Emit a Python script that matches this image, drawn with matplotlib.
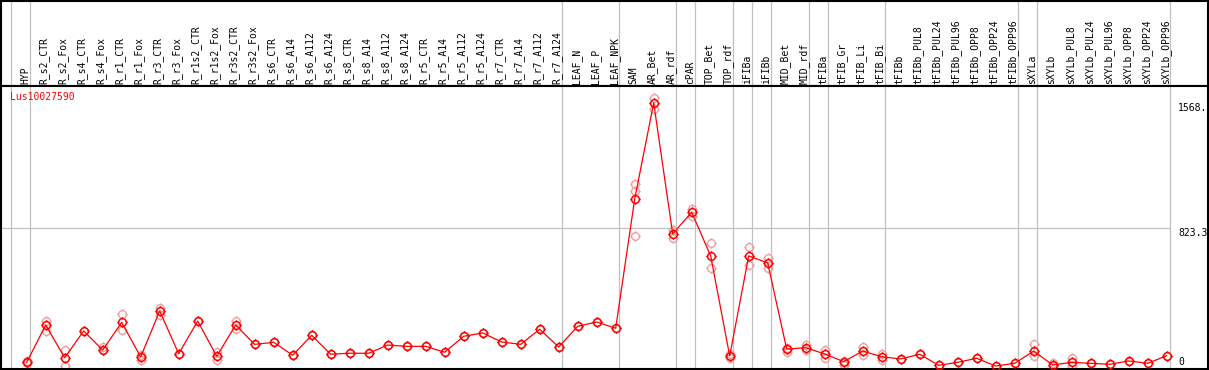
import matplotlib
matplotlib.use("Agg")
import matplotlib.pyplot as plt
from matplotlib.path import Path
import matplotlib.transforms as mtransforms

# ---------------- data ----------------
gene = "Lus10027590"

categories = [
    "HYP", "R_s2_CTR", "R_s2_Fox", "R_s4_CTR", "R_s4_Fox", "R_r1_CTR", "R_r1_Fox",
    "R_r3_CTR", "R_r3_Fox", "R_r1s2_CTR", "R_r1s2_Fox", "R_r3s2_CTR", "R_r3s2_Fox",
    "R_s6_CTR", "R_s6_A14", "R_s6_A112", "R_s6_A124", "R_s8_CTR", "R_s8_A14",
    "R_s8_A112", "R_s8_A124", "R_r5_CTR", "R_r5_A14", "R_r5_A112", "R_r5_A124",
    "R_r7_CTR", "R_r7_A14", "R_r7_A112", "R_r7_A124", "LEAF_N", "LEAF_P", "LEAF_NPK",
    "SAM", "AR_Bet", "AR_rdf", "cPAR", "TOP_Bet", "TOP_rdf", "iFIBa", "iFIBb",
    "MID_Bet", "MID_rdf", "tFIBa", "tFIB_Gr", "tFIB_Li", "tFIB_Bi", "tFIBb",
    "tFIBb_PUL8", "tFIBb_PUL24", "tFIBb_PUL96", "tFIBb_OPP8", "tFIBb_OPP24",
    "tFIBb_OPP96", "sXYLa", "sXYLb", "sXYLb_PUL8", "sXYLb_PUL24", "sXYLb_PUL96",
    "sXYLb_OPP8", "sXYLb_OPP24", "sXYLb_OPP96",
]

means = [22, 244, 49, 209, 95, 260, 54, 328, 73, 268,
         58, 244, 129, 141, 64, 183, 70, 76, 76, 125,
         117, 117, 82, 177, 197, 143, 129, 219, 113, 237,
         262, 225, 995, 1568, 787, 916, 656, 60, 656, 614,
         101, 109, 72, 26, 89, 55, 42, 70, 4, 22,
         46, 0, 16, 89, 6, 22, 16, 10, 30, 16, 61]

replicates = [
    [18, 28], [270, 209], [95, 0], [209], [115, 95], [310, 213], [64, 36],
    [344, 304], [73], [268], [82, 36], [270, 221],
    [129], [141], [64], [183], [70], [76], [76], [125], [117], [117], [82],
    [177], [197], [143], [129], [219], [113], [237], [262], [225],
    [1085, 1041, 775], [1595, 1532], [810, 763], [936, 894], [731, 582],
    [46, 70], [711, 600], [642, 586], [85, 110], [125, 95], [95, 46],
    [6, 30], [111, 66], [72, 36],
    [42], [70], [4], [22], [46], [0], [16],
    [129, 60], [20, 0], [49, 0],
    [16], [10], [30], [16], [61],
]

group_breaks = [0, 1, 29, 32, 35, 36, 38, 39, 40, 42, 43, 46, 53, 54, 61]

ytick_values = [1568, 823.3, 0]
ytick_labels = ["1568.", "823.3", "0"]
mid_line_value = 823.3

# ---------------- layout ----------------
W, H = 1209, 370
fig = plt.figure(figsize=(W / 100, H / 100), dpi=100)

left_px, right_px = 1, 1208
top_px, header_px, bottom_px = 1, 86, 368.5
col_w = 19.0
first_px = 26.7

def fx(px):
    return px / W

def fy(py):
    return (H - py) / H

ax_h = fig.add_axes([fx(left_px), fy(header_px), fx(right_px - left_px), (header_px - top_px) / H])
ax = fig.add_axes([fx(left_px), fy(bottom_px), fx(right_px - left_px), (bottom_px - header_px) / H])

xlim = ((left_px - first_px) / col_w, (right_px - first_px) / col_w)
for a in (ax_h, ax):
    a.set_xlim(*xlim)
    a.set_xticks([])
    a.set_yticks([])
    for s in a.spines.values():
        s.set_color("black")
        s.set_linewidth(1.5)

# y scale: value 0 at pixel 366, 0.1678 px per unit
y0_px, scale = 366.0, 0.1678
ax.set_ylim((y0_px - bottom_px) / scale, (y0_px - header_px) / scale)
ax_h.set_ylim(0, 1)

grid_c = "#c0c0c0"
cell_off = (first_px - 11.0) / col_w
for k in group_breaks:
    for a in (ax_h, ax):
        a.axvline(k - cell_off, color=grid_c, lw=0.9, zorder=0)

ax.axhline(mid_line_value, xmin=0, xmax=(1170 - left_px) / (right_px - left_px),
           color=grid_c, lw=0.9, zorder=0)

mono = "DejaVu Sans Mono"
fs = 7

# header labels
lab_y = (header_px - 84) / (header_px - top_px)
tr_h = mtransforms.blended_transform_factory(ax_h.transData, ax_h.transAxes)
for i, c in enumerate(categories):
    ax_h.text(i - 0.07, lab_y, c, rotation=90, ha="center", va="bottom",
              fontsize=fs, family=mono, color="black", transform=tr_h)

# right value labels
tr = mtransforms.blended_transform_factory(ax.transAxes, ax.transData)
lx = (1178 - left_px) / (right_px - left_px)
for v, t in zip(ytick_values, ytick_labels):
    if v == 0:
        ax.text(lx, (y0_px - 362) / scale, t, ha="left", va="center",
                fontsize=fs, family=mono, transform=tr)
    else:
        ax.text(lx, v, t, ha="left", va="top", fontsize=fs, family=mono, transform=tr)

# gene name
ax.text((10 - left_px) / (right_px - left_px), (bottom_px - 97) / (bottom_px - header_px),
        gene, ha="left", va="center", fontsize=fs, family=mono, color="red",
        transform=ax.transAxes)

# marker: circle with small outer ticks
circ = Path.unit_circle()
t = 1.35
tick = Path([(0, 1), (0, t), (0, -1), (0, -t), (1, 0), (t, 0), (-1, 0), (-t, 0)],
            [Path.MOVETO, Path.LINETO] * 4)
mk = Path.make_compound_path(circ, tick)

rep_c = "#f0a0a0"
for i, reps in enumerate(replicates):
    ax.plot([i] * len(reps), reps, ls="none", marker=mk, ms=7.5, mfc="none",
            mec=rep_c, mew=1.0, zorder=2)

xs = list(range(len(means)))
ax.plot(xs, means, color="red", lw=0.9, zorder=3)
ax.plot(xs, means, ls="none", marker=mk, ms=7.5, mfc="none", mec="red", mew=1.1, zorder=4)

fig.savefig("out.png", dpi=100)
